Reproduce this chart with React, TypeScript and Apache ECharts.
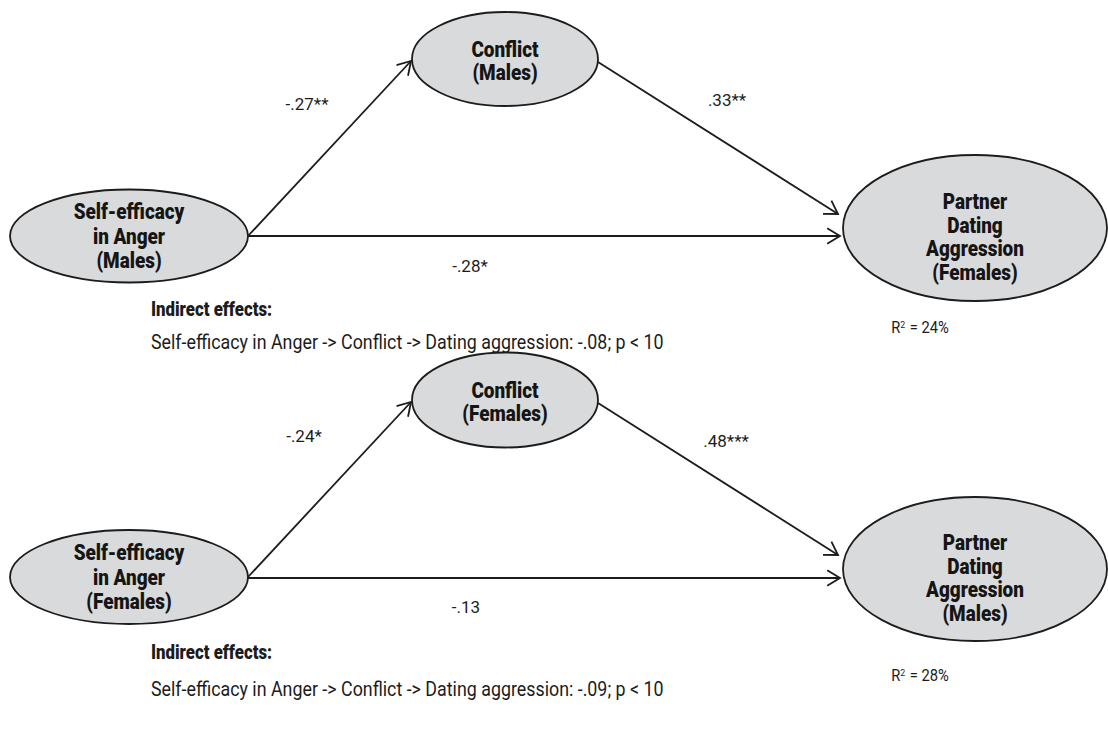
import React, { useEffect, useRef } from "react";
import * as echarts from "echarts";

// ---- Diagram data (coordinates in a 1108 x 737 canvas space) ----
const nodeLabels = [
  "Self-efficacy\nin Anger\n(Males)",
  "Conflict\n(Males)",
  "Partner\nDating\nAggression\n(Females)",
  "Self-efficacy\nin Anger\n(Females)",
  "Conflict\n(Females)",
  "Partner\nDating\nAggression\n(Males)",
];
const nodeX = [129, 505, 975, 129, 505, 975];
const nodeY = [236, 59, 228, 577, 400, 569];
const nodeW = [238, 186, 264, 238, 186, 264];
const nodeH = [93, 94, 146, 94, 95, 144];
const nodeTextDy = [0, 2, 9, 0, 2, 9];
const nodeLineHeight = [24.5, 23.5, 23.5, 24.5, 23.5, 23.5];

const edgeFromX = [248, 248, 598, 248, 248, 598];
const edgeFromY = [236, 236, 62, 577, 578, 403];
const edgeToX = [411, 840, 838, 411, 840, 838];
const edgeToY = [61, 236, 214, 402, 578, 555];

const coefLabels = ["-.27**", ".33**", "-.28*", "-.24*", ".48***", "-.13"];
const coefX = [307, 727, 470, 304, 726, 466];
const coefY = [104, 100, 266, 436, 441, 607];

const indirectTitle = ["Indirect effects:", "Indirect effects:"];
const indirectText = [
  "Self-efficacy in Anger -> Conflict -> Dating aggression: -.08; p < 10",
  "Self-efficacy in Anger -> Conflict -> Dating aggression: -.09; p < 10",
];
const indirectX = [151, 151];
const indirectTitleY = [309, 652];
const indirectTextY = [343, 690];

const r2Labels = ["R{s|2} = 24%", "R{s|2} = 28%"];
const r2X = [920, 920];
const r2Y = [328, 676];

const FONT = 'Roboto, "Liberation Sans", sans-serif';
const INK = "#1c1c1c";

export default function App() {
  const ref = useRef<HTMLDivElement>(null);
  useEffect(() => {
    if (!ref.current) return;
    const chart = echarts.init(ref.current, null, { renderer: "svg" });

    const nodeData = nodeX.map((x, i) => [x, nodeY[i], nodeW[i], nodeH[i]]);
    const edgeData = edgeFromX.map((x, i) => [x, edgeFromY[i], edgeToX[i], edgeToY[i]]);
    const coefData = coefX.map((x, i) => [x, coefY[i]]);
    const titleData = indirectX.map((x, i) => [x, indirectTitleY[i]]);
    const textData = indirectX.map((x, i) => [x, indirectTextY[i]]);
    const r2Data = r2X.map((x, i) => [x, r2Y[i]]);

    const textSeries = (
      name: string,
      data: number[][],
      texts: string[],
      size: number,
      weight: string,
      align: string,
      squeeze: number
    ) => ({
      type: "custom",
      name,
      coordinateSystem: "cartesian2d",
      data,
      silent: true,
      renderItem: (params: any, api: any) => {
        const c = api.coord([api.value(0), api.value(1)]);
        return {
          type: "text",
          x: c[0],
          y: c[1],
          scaleX: squeeze,
          style: {
            text: texts[params.dataIndex],
            fontFamily: FONT,
            fontSize: size,
            fontWeight: weight,
            fill: INK,
            align,
            verticalAlign: "middle",
            rich: {
              s: { fontFamily: FONT, fontSize: size * 0.6, fill: INK, verticalAlign: "top", padding: [0, 1, 7, 0] },
            },
          },
        };
      },
    });

    chart.setOption({
      animation: false,
      grid: { left: 0, right: 0, top: 0, bottom: 0 },
      xAxis: { type: "value", min: 0, max: 1108, show: false },
      yAxis: { type: "value", min: 0, max: 737, inverse: true, show: false },
      series: [
        {
          type: "custom",
          name: "paths",
          coordinateSystem: "cartesian2d",
          data: edgeData,
          silent: true,
          renderItem: (params: any, api: any) => {
            const p1 = api.coord([api.value(0), api.value(1)]);
            const p2 = api.coord([api.value(2), api.value(3)]);
            const ang = Math.atan2(p2[1] - p1[1], p2[0] - p1[0]);
            const len = 15;
            const spread = 0.55;
            const a1 = [p2[0] - len * Math.cos(ang - spread), p2[1] - len * Math.sin(ang - spread)];
            const a2 = [p2[0] - len * Math.cos(ang + spread), p2[1] - len * Math.sin(ang + spread)];
            const ls = { stroke: INK, lineWidth: 1.8, fill: "none" };
            return {
              type: "group",
              children: [
                { type: "line", shape: { x1: p1[0], y1: p1[1], x2: p2[0], y2: p2[1] }, style: ls },
                { type: "polyline", shape: { points: [a1, p2, a2] }, style: ls },
              ],
            };
          },
        },
        {
          type: "custom",
          name: "constructs",
          coordinateSystem: "cartesian2d",
          data: nodeData,
          silent: true,
          renderItem: (params: any, api: any) => {
            const c = api.coord([api.value(0), api.value(1)]);
            const s = api.size([api.value(2), api.value(3)]);
            const i = params.dataIndex;
            return {
              type: "group",
              children: [
                {
                  type: "ellipse",
                  shape: { cx: c[0], cy: c[1], rx: s[0] / 2, ry: s[1] / 2 },
                  style: { fill: "#d9dadb", stroke: INK, lineWidth: 1.8 },
                },
                {
                  type: "text",
                  x: c[0],
                  y: c[1] + nodeTextDy[i],
                  scaleX: 0.86,
                  style: {
                    text: nodeLabels[i],
                    fontFamily: FONT,
                    fontSize: 22,
                    fontWeight: 900,
                    lineHeight: nodeLineHeight[i],
                    fill: "#151515",
                    align: "center",
                    verticalAlign: "middle",
                  },
                },
              ],
            };
          },
        },
        textSeries("coefficients", coefData, coefLabels, 17, "normal", "center", 1.0),
        textSeries("indirectTitle", titleData, indirectTitle, 21, "900", "left", 0.8),
        textSeries("indirectText", textData, indirectText, 19.5, "normal", "left", 0.915),
        textSeries("r2", r2Data, r2Labels, 16, "normal", "center", 0.92),
      ],
    });
    return () => chart.dispose();
  }, []);
  return (
    <div
      ref={ref}
      style={{ position: "fixed", left: 0, top: 0, width: 1108, height: 737, background: "#fff" }}
    />
  );
}
